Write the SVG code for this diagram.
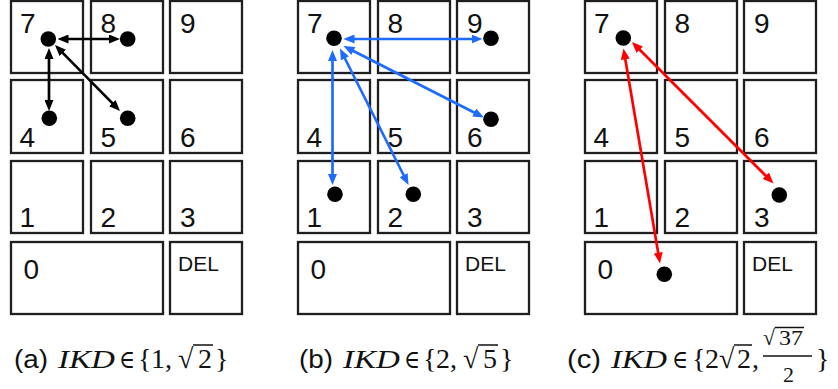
<svg xmlns="http://www.w3.org/2000/svg" width="838" height="389" viewBox="0 0 838 389">
  <style>
    .key { fill: #ffffff; stroke: #1f1f1f; stroke-width: 2.3; }
    .num { font-family: "Liberation Sans", Arial, sans-serif; font-size: 28px; fill: #111; }
    .del { font-family: "Liberation Sans", Arial, sans-serif; font-size: 21px; fill: #111; }
    .dot { fill: #000; }
    .cap { font-family: "Liberation Sans", Arial, sans-serif; font-size: 26px; fill: #111; }
    .math { font-family: "Liberation Serif", "DejaVu Serif", serif; font-size: 28px; fill: #111; }
    .el { font-size: 25px; }
    .sm { font-size: 22px; }
    .mi { font-style: italic; font-size: 25px; }
    .bar { stroke: #111; stroke-width: 1.5; }
    .link { fill: none; stroke-width: 2.7; }
    .k { stroke: #000; }
    .b { stroke: #1f6bff; }
    .r { stroke: #ff0000; }
  </style>
  <defs>
    <marker id="ahK" viewBox="0 0 11 9" refX="6" refY="4.5" markerWidth="11" markerHeight="9" markerUnits="userSpaceOnUse" orient="auto-start-reverse">
      <path d="M0,0 L11,4.5 L0,9 z" fill="#000"/>
    </marker>
    <marker id="ahB" viewBox="0 0 11 9" refX="6" refY="4.5" markerWidth="11" markerHeight="9" markerUnits="userSpaceOnUse" orient="auto-start-reverse">
      <path d="M0,0 L11,4.5 L0,9 z" fill="#1f6bff"/>
    </marker>
    <marker id="ahR" viewBox="0 0 11 9" refX="6" refY="4.5" markerWidth="11" markerHeight="9" markerUnits="userSpaceOnUse" orient="auto-start-reverse">
      <path d="M0,0 L11,4.5 L0,9 z" fill="#ff0000"/>
    </marker>
    <!-- one keypad: 3x3 digits plus 0 and DEL -->
    <g id="pad">
      <rect class="key" x="1" y="1" width="72" height="72"/>
      <rect class="key" x="81" y="1" width="72" height="72"/>
      <rect class="key" x="160" y="1" width="72" height="72"/>
      <rect class="key" x="1" y="80" width="72" height="73"/>
      <rect class="key" x="81" y="80" width="72" height="73"/>
      <rect class="key" x="160" y="80" width="72" height="73"/>
      <rect class="key" x="1" y="161" width="72" height="72"/>
      <rect class="key" x="81" y="161" width="72" height="72"/>
      <rect class="key" x="160" y="161" width="72" height="72"/>
      <rect class="key" x="1" y="242" width="152" height="72"/>
      <rect class="key" x="160" y="242" width="72" height="72"/>
      <text class="num" x="10" y="33">7</text>
      <text class="num" x="90.5" y="33">8</text>
      <text class="num" x="170" y="33">9</text>
      <text class="num" x="9.5" y="147">4</text>
      <text class="num" x="90.5" y="147">5</text>
      <text class="num" x="170" y="147">6</text>
      <text class="num" x="9.5" y="227">1</text>
      <text class="num" x="90.5" y="227">2</text>
      <text class="num" x="170" y="227">3</text>
      <text class="num" x="13.5" y="278.5">0</text>
      <text class="del" x="168" y="270.5">DEL</text>
    </g>
  </defs>

  <!-- panel (a) -->
  <g id="pad-a" transform="translate(10,0)">
    <use href="#pad"/>
  </g>
  <!-- panel (b) -->
  <g id="pad-b" transform="translate(297,0)">
    <use href="#pad"/>
  </g>
  <!-- panel (c) -->
  <g id="pad-c" transform="translate(584,0)">
    <use href="#pad"/>
  </g>

  <!-- touch points -->
  <g id="points-a">
    <circle class="dot" cx="48.3" cy="39" r="7.8"/>
    <circle class="dot" cx="127.7" cy="39" r="7.8"/>
    <circle class="dot" cx="49.3" cy="118.3" r="7.8"/>
    <circle class="dot" cx="127.7" cy="118.3" r="7.8"/>
  </g>
  <g id="points-b">
    <circle class="dot" cx="334" cy="38.3" r="7.8"/>
    <circle class="dot" cx="491" cy="38.3" r="7.8"/>
    <circle class="dot" cx="491" cy="119.3" r="7.8"/>
    <circle class="dot" cx="335" cy="194.3" r="7.8"/>
    <circle class="dot" cx="413.3" cy="194.3" r="7.8"/>
  </g>
  <g id="points-c">
    <circle class="dot" cx="623.3" cy="38" r="7.8"/>
    <circle class="dot" cx="779.3" cy="195" r="7.8"/>
    <circle class="dot" cx="664.3" cy="274.3" r="7.8"/>
  </g>

  <!-- inter-key distances -->
  <g id="connectors">
    <line class="link k" x1="62.5" y1="39" x2="115" y2="39" marker-start="url(#ahK)" marker-end="url(#ahK)"/>
    <line class="link k" x1="49" y1="53" x2="49" y2="106" marker-start="url(#ahK)" marker-end="url(#ahK)"/>
    <line class="link k" x1="58.5" y1="48.6" x2="116.5" y2="107.4" marker-start="url(#ahK)" marker-end="url(#ahK)"/>

    <line class="link b" x1="348.5" y1="39" x2="477.5" y2="39" marker-start="url(#ahB)" marker-end="url(#ahB)"/>
    <line class="link b" x1="348" y1="48.3" x2="479.5" y2="115.2" marker-start="url(#ahB)" marker-end="url(#ahB)"/>
    <line class="link b" x1="332.5" y1="55" x2="332.5" y2="180" marker-start="url(#ahB)" marker-end="url(#ahB)"/>
    <line class="link b" x1="342.2" y1="53" x2="406.3" y2="180.5" marker-start="url(#ahB)" marker-end="url(#ahB)"/>

    <line class="link r" x1="624.3" y1="53.4" x2="659.2" y2="258.6" marker-start="url(#ahR)" marker-end="url(#ahR)"/>
    <line class="link r" x1="635.5" y1="45.5" x2="770" y2="180" marker-start="url(#ahR)" marker-end="url(#ahR)"/>
  </g>

  <!-- captions -->
  <g id="caption-a">
    <text class="cap" x="14" y="368" textLength="34" lengthAdjust="spacingAndGlyphs">(a)</text>
    <text class="math mi" x="58" y="368" textLength="57" lengthAdjust="spacingAndGlyphs">IKD</text>
    <text class="math el" x="119" y="368" textLength="16" lengthAdjust="spacingAndGlyphs">∈</text>
    <text class="math" y="368"><tspan x="138">{</tspan><tspan x="151">1</tspan><tspan x="165">,</tspan><tspan x="178">√</tspan><tspan x="198">2</tspan><tspan x="215">}</tspan></text>
    <line class="bar" x1="193" y1="345" x2="213" y2="345"/>
  </g>
  <g id="caption-b">
    <text class="cap" x="299" y="368" textLength="34" lengthAdjust="spacingAndGlyphs">(b)</text>
    <text class="math mi" x="343" y="368" textLength="57" lengthAdjust="spacingAndGlyphs">IKD</text>
    <text class="math el" x="404" y="368" textLength="16" lengthAdjust="spacingAndGlyphs">∈</text>
    <text class="math" y="368"><tspan x="423">{</tspan><tspan x="436">2</tspan><tspan x="450">,</tspan><tspan x="463">√</tspan><tspan x="483">5</tspan><tspan x="500">}</tspan></text>
    <line class="bar" x1="478" y1="345" x2="498" y2="345"/>
  </g>
  <g id="caption-c">
    <text class="cap" x="567" y="368" textLength="34" lengthAdjust="spacingAndGlyphs">(c)</text>
    <text class="math mi" x="611" y="368" textLength="56" lengthAdjust="spacingAndGlyphs">IKD</text>
    <text class="math el" x="672" y="368" textLength="16" lengthAdjust="spacingAndGlyphs">∈</text>
    <text class="math" y="368"><tspan x="692">{</tspan><tspan x="705">2</tspan><tspan x="719">√</tspan><tspan x="737">2</tspan><tspan x="752">,</tspan><tspan x="816">}</tspan></text>
    <line class="bar" x1="734" y1="345" x2="752" y2="345"/>
    <!-- fraction: sqrt(37) over 2 -->
    <text class="math sm" x="763" y="345">√</text>
    <line class="bar" x1="775" y1="327.5" x2="804" y2="327.5"/>
    <text class="math sm" x="779" y="345" textLength="24" lengthAdjust="spacingAndGlyphs">37</text>
    <line class="bar" x1="763" y1="356" x2="812" y2="356"/>
    <text class="math sm" x="783" y="382">2</text>
  </g>
</svg>
